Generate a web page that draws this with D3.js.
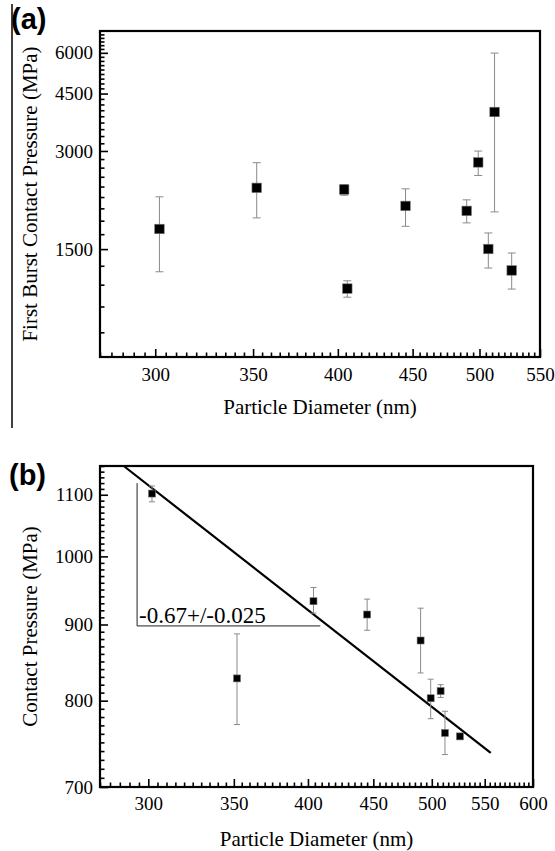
<!DOCTYPE html>
<html>
<head>
<meta charset="utf-8">
<script src="https://cdn.jsdelivr.net/npm/d3@7"></script>
<style>
  html, body { margin: 0; padding: 0; background: #fff; }
  svg { display: block; }
  svg text { font-family: "Liberation Serif", "Times New Roman", Times, "DejaVu Serif", serif; fill: #000; }
  svg text.plabel { font-family: "Liberation Sans", Arial, Helvetica, sans-serif; font-weight: bold; }
</style>
</head>
<body>
<svg id="chart" width="555" height="851"></svg>
<script>
// ---------- Panel (a) data ----------
const aDiameter = [302, 352, 404, 406, 445, 490, 499, 507, 512, 526];
const aPressure = [1729, 2312, 2285, 1135, 2035, 1965, 2767, 1501, 3951, 1290];
const aUpper    = [2170, 2761, 2367, 1199, 2296, 2124, 2998, 1681, 5989, 1459];
const aLower    = [1278, 1870, 2194, 1068, 1762, 1805, 2523, 1312, 1951, 1131];
const aXTicks = [300, 350, 400, 450, 500, 550];
const aYTicks = [1500, 3000, 4500, 6000];

// ---------- Panel (b) data ----------
const bDiameter = [302, 352, 404, 445, 490, 499, 508, 512, 526];
const bPressure = [1102, 828, 933, 914, 878, 803, 812, 761, 757];
const bUpper    = [1115, 887, 953, 936, 923, 827, 820, 787, 760];
const bLower    = [1088, 771, 916, 892, 835, 778, 804, 736, 754];
const bXTicks = [300, 350, 400, 450, 500, 550, 600];
const bYTicks = [700, 800, 900, 1000, 1100];
const fitX = [287, 556];
const fitY = [1150, 738];
const slopeTriX = [294, 409];
const slopeTriY = [1120, 898];
const slopeLabel = "-0.67+/-0.025";

const SERIF = "'Liberation Serif', 'Times New Roman', Times, 'DejaVu Serif', serif";
const svg = d3.select("#chart");

function range(start, stop, step) {
  const out = [];
  for (let v = start; v <= stop + 1e-9; v += step) out.push(v);
  return out;
}

function panel(cfg) {
  const g = svg.append("g");
  const x = d3.scaleLog().domain(cfg.xDomain).range([cfg.left, cfg.right]);
  const y = d3.scaleLog().domain(cfg.yDomain).range([cfg.bottom, cfg.top]);

  const xMinor = cfg.xMinor.filter(v => !cfg.xTicks.includes(v) && v >= cfg.xDomain[0] && v <= cfg.xDomain[1]);
  const yMinor = cfg.yMinor.filter(v => !cfg.yTicks.some(t => Math.abs(t - v) < 1e-6) && v >= cfg.yDomain[0] && v <= cfg.yDomain[1]);

  const xMinorAxis = d3.axisBottom(x).tickValues(xMinor).tickSizeInner(-4.5).tickSizeOuter(0).tickFormat("");
  const yMinorAxis = d3.axisLeft(y).tickValues(yMinor).tickSizeInner(-4.5).tickSizeOuter(0).tickFormat("");
  const xAxis = d3.axisBottom(x).tickValues(cfg.xTicks).tickSizeInner(-8).tickSizeOuter(0)
    .tickPadding(cfg.xPad).tickFormat(d3.format("d"));
  const yAxis = d3.axisLeft(y).tickValues(cfg.yTicks).tickSizeInner(-8).tickSizeOuter(0)
    .tickPadding(7).tickFormat(d3.format("d"));

  const axes = [
    g.append("g").attr("transform", `translate(0,${cfg.bottom})`).call(xMinorAxis),
    g.append("g").attr("transform", `translate(${cfg.left},0)`).call(yMinorAxis),
    g.append("g").attr("transform", `translate(0,${cfg.bottom})`).call(xAxis),
    g.append("g").attr("transform", `translate(${cfg.left},0)`).call(yAxis)
  ];
  axes.forEach(a => {
    a.attr("font-family", null).attr("font-size", null);
    a.select(".domain").remove();
    a.selectAll(".tick line").attr("stroke", "#000").attr("stroke-width", 1.6);
    a.selectAll(".tick text").style("font-family", SERIF).style("font-size", "19px").attr("fill", "#000");
  });

  g.append("rect")
    .attr("x", cfg.left).attr("y", cfg.top)
    .attr("width", cfg.right - cfg.left).attr("height", cfg.bottom - cfg.top)
    .attr("fill", "none").attr("stroke", "#000").attr("stroke-width", 2.2);

  if (cfg.extra) cfg.extra(g, x, y);

  const idx = d3.range(cfg.xs.length);
  const eb = g.append("g").attr("stroke", "#8a8a8a").attr("stroke-width", 1);
  eb.selectAll("line.v").data(idx).join("line")
    .attr("x1", i => x(cfg.xs[i])).attr("x2", i => x(cfg.xs[i]))
    .attr("y1", i => y(cfg.up[i])).attr("y2", i => y(cfg.lo[i]));
  eb.selectAll("line.t").data(idx).join("line")
    .attr("x1", i => x(cfg.xs[i]) - cfg.cap).attr("x2", i => x(cfg.xs[i]) + cfg.cap)
    .attr("y1", i => y(cfg.up[i])).attr("y2", i => y(cfg.up[i]));
  eb.selectAll("line.b").data(idx).join("line")
    .attr("x1", i => x(cfg.xs[i]) - cfg.cap).attr("x2", i => x(cfg.xs[i]) + cfg.cap)
    .attr("y1", i => y(cfg.lo[i])).attr("y2", i => y(cfg.lo[i]));

  g.append("g").selectAll("rect").data(idx).join("rect")
    .attr("x", i => x(cfg.xs[i]) - cfg.ms / 2)
    .attr("y", i => y(cfg.ys[i]) - cfg.ms / 2)
    .attr("width", cfg.ms).attr("height", cfg.ms)
    .attr("fill", "#000").attr("stroke", "#777").attr("stroke-width", 0.6);

  g.append("text")
    .attr("x", (cfg.left + cfg.right) / 2).attr("y", cfg.xTitleY)
    .attr("text-anchor", "middle").style("font-family", SERIF).style("font-size", "21px")
    .text("Particle Diameter (nm)");
  g.append("text")
    .attr("transform", `translate(37,${(cfg.top + cfg.bottom) / 2}) rotate(-90)`)
    .attr("text-anchor", "middle").style("font-family", SERIF).style("font-size", "21px")
    .text(cfg.yTitle);
  g.append("text").attr("class", "plabel")
    .attr("x", cfg.labelX).attr("y", cfg.labelY)
    .style("font-size", "29px")
    .text(cfg.label);
  return g;
}

svg.append("line").attr("x1", 12).attr("x2", 12).attr("y1", 4).attr("y2", 428)
  .attr("stroke", "#000").attr("stroke-width", 1.5);

panel({
  left: 100, right: 540, top: 31, bottom: 357,
  xDomain: [275, 550], yDomain: [700, 7000],
  xTicks: aXTicks, yTicks: aYTicks,
  xMinor: range(275, 550, 5), yMinor: range(1500 / 9, 7000, 1500 / 9),
  xPad: 10.5, xTitleY: 414,
  xs: aDiameter, ys: aPressure, up: aUpper, lo: aLower,
  cap: 4, ms: 9.5,
  yTitle: "First Burst Contact Pressure (MPa)",
  label: "(a)", labelX: 11, labelY: 29
});

panel({
  left: 100, right: 533, top: 466, bottom: 787,
  xDomain: [275, 600], yDomain: [700, 1150],
  xTicks: bXTicks, yTicks: bYTicks,
  xMinor: range(275, 600, 5), yMinor: range(700, 1150, 10),
  xPad: 9.5, xTitleY: 846,
  xs: bDiameter, ys: bPressure, up: bUpper, lo: bLower,
  cap: 3, ms: 7,
  yTitle: "Contact Pressure (MPa)",
  label: "(b)", labelX: 9, labelY: 485,
  extra: (g, x, y) => {
    g.append("path")
      .attr("d", d3.line()([
        [x(slopeTriX[0]), y(slopeTriY[0])],
        [x(slopeTriX[0]), y(slopeTriY[1])],
        [x(slopeTriX[1]), y(slopeTriY[1])]
      ]))
      .attr("fill", "none").attr("stroke", "#222").attr("stroke-width", 1);
    g.append("text")
      .attr("x", x(slopeTriX[0]) + 2).attr("y", y(slopeTriY[1]) - 3)
      .style("font-family", SERIF).style("font-size", "23px")
      .text(slopeLabel);
    g.append("path")
      .attr("d", d3.line()(fitX.map((v, i) => [x(v), y(fitY[i])])))
      .attr("fill", "none").attr("stroke", "#000").attr("stroke-width", 2.2);
  }
});
</script>
</body>
</html>
